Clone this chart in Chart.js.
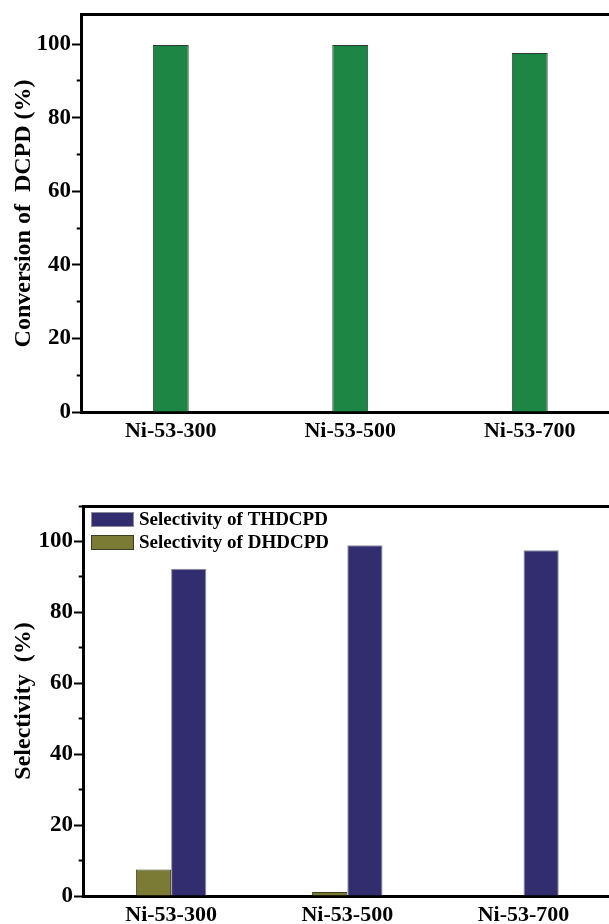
<!DOCTYPE html>
<html><head><meta charset="utf-8">
<script src="https://cdn.jsdelivr.net/npm/chart.js@4/dist/chart.umd.min.js"></script>
<style>
html,body{margin:0;padding:0;background:#fff;overflow:hidden;width:609px;height:924px}
#wrap{position:relative;width:609px;height:924px;overflow:hidden;background:#fff}
canvas{position:absolute;left:0}
</style></head><body>
<div id="wrap">
<canvas id="c1" width="640" height="462" style="top:0;width:640px;height:462px"></canvas>
<canvas id="c2" width="640" height="462" style="top:462px;width:640px;height:462px"></canvas>
</div>
<script>
const categories = ['Ni-53-300', 'Ni-53-500', 'Ni-53-700'];
const conversionDCPD = [99.8, 99.8, 97.6];
const selectivityTHDCPD = [92.3, 98.9, 97.5];
const selectivityDHDCPD = [7.5, 1.1, 0];
const majorTicks = [0, 20, 40, 60, 80, 100];
const conversionTitle = 'Conversion of  DCPD (%)';
const selectivityTitle = 'Selectivity  (%)';
const labelTHDCPD = 'Selectivity of THDCPD';
const labelDHDCPD = 'Selectivity of DHDCPD';

const FAMILY = "'Liberation Serif', 'Times New Roman', serif";
const tickFont = {family: FAMILY, size: 22, weight: 'bold'};
const yTickFont = {family: FAMILY, size: 23, weight: 'bold'};
const titleFont = {family: FAMILY, size: 24, weight: 'bold'};

function yAxis(max, width, title) {
  return {
    min: 0, max: max,
    afterFit: s => { s.width = width; },
    ticks: {
      stepSize: 10, includeBounds: false, autoSkip: false,
      color: '#000', font: yTickFont, padding: 1,
      callback: v => majorTicks.includes(v) ? String(v) : ''
    },
    grid: {
      drawOnChartArea: false, drawTicks: true, tickLength: 9, tickWidth: 2, tickColor: '#000',
      tickBorderDash: ctx => (ctx.tick && !majorTicks.includes(ctx.tick.value)) ? [0, 4.7, 10, 0] : []
    },
    border: {display: true, width: 3, color: '#000'},
    title: {display: true, text: title, color: '#000', font: titleFont, padding: {top: 9, bottom: 0}}
  };
}
function xAxis(height) {
  return {
    afterFit: s => { s.height = height; },
    grid: {display: false, drawTicks: false},
    border: {display: true, width: 3, color: '#000'},
    ticks: {color: '#000', font: tickFont, padding: 6, maxRotation: 0, autoSkip: false}
  };
}
function topAxis() {
  return {
    type: 'category', position: 'top', display: true, labels: categories,
    afterFit: s => { s.height = 0; },
    grid: {display: false, drawTicks: false},
    border: {display: true, width: 3, color: '#000'},
    ticks: {display: false}
  };
}

const legendPlugin = {
  id: 'boxLegend',
  afterDatasetsDraw(chart) {
    const {ctx, chartArea} = chart;
    const items = chart.data.datasets.slice().reverse();
    ctx.save();
    ctx.font = 'bold 19px ' + FAMILY;
    ctx.textBaseline = 'middle';
    ctx.textAlign = 'left';
    items.forEach((ds, i) => {
      const bx = chartArea.left + 8, by = chartArea.top + 6 + i * 23;
      ctx.fillStyle = ds.backgroundColor;
      ctx.fillRect(bx, by, 43, 15);
      ctx.strokeStyle = ds.borderColor;
      ctx.lineWidth = 1;
      ctx.strokeRect(bx + 0.5, by + 0.5, 42, 14);
      ctx.fillStyle = '#000';
      ctx.fillText(ds.label, bx + 48, by + 8);
    });
    ctx.restore();
  }
};

new Chart(document.getElementById('c1'), {
  type: 'bar',
  data: {
    labels: categories,
    datasets: [{
      label: 'Conversion of DCPD',
      data: conversionDCPD,
      backgroundColor: '#1e8644',
      borderColor: '#2d3a32',
      borderWidth: 1,
      categoryPercentage: 0.2,
      barPercentage: 1
    }]
  },
  options: {
    responsive: false, maintainAspectRatio: false, animation: false,
    devicePixelRatio: 1,
    layout: {padding: {top: 13, left: 0, right: 20.5, bottom: 0}},
    plugins: {legend: {display: false}, tooltip: {enabled: false}},
    scales: {
      x: xAxis(50),
      x2: topAxis(),
      y: yAxis(108, 81, conversionTitle)
    }
  }
});

new Chart(document.getElementById('c2'), {
  type: 'bar',
  data: {
    labels: categories,
    datasets: [{
      label: labelDHDCPD,
      data: selectivityDHDCPD,
      backgroundColor: '#7b7b35',
      borderColor: '#3c3c22',
      borderWidth: 1,
      categoryPercentage: 0.4,
      barPercentage: 1
    }, {
      label: labelTHDCPD,
      data: selectivityTHDCPD,
      backgroundColor: '#312d6e',
      borderColor: '#8c8c9a',
      borderWidth: 1,
      categoryPercentage: 0.4,
      barPercentage: 1
    }]
  },
  options: {
    responsive: false, maintainAspectRatio: false, animation: false,
    devicePixelRatio: 1,
    layout: {padding: {top: 44, left: 0, right: 28.4, bottom: 0}},
    plugins: {legend: {display: false}, tooltip: {enabled: false}},
    scales: {
      x: xAxis(28),
      x2: topAxis(),
      y: yAxis(110, 83, selectivityTitle)
    }
  },
  plugins: [legendPlugin]
});
</script>
</body></html>
